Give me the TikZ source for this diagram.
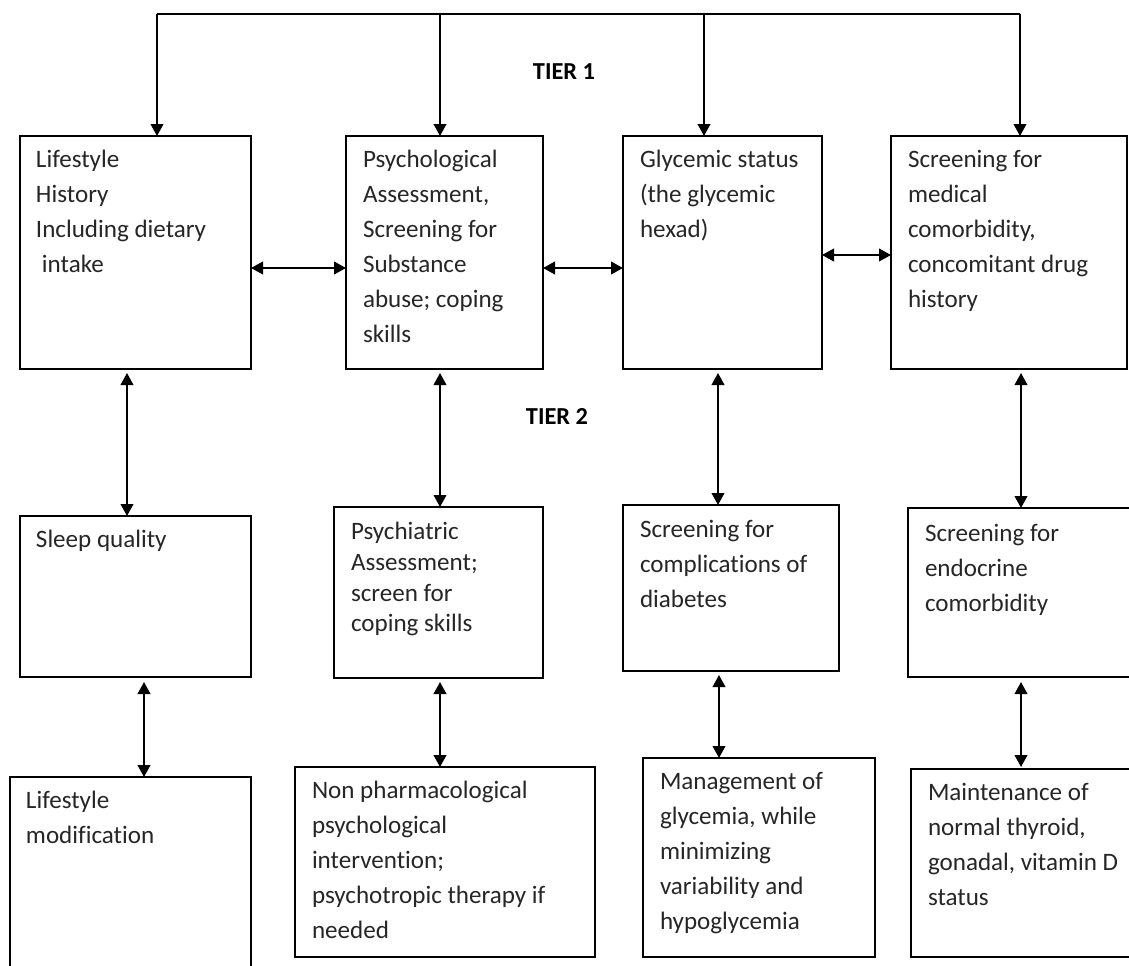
\documentclass[tikz,border=0pt]{standalone}
\usepackage{fontspec}
\usetikzlibrary{arrows.meta,calc}
\newfontfamily\carl[Ligatures=NoCommon]{Carlito}
\begin{document}
\begin{tikzpicture}[x=0.75pt,y=-0.75pt,
  box/.style 2 args={draw, line width=1.4pt, rectangle, anchor=north west, inner sep=0pt, outer sep=0pt, minimum width=#1*0.75pt, minimum height=#2*0.75pt},
  txt/.style={anchor=north west, inner sep=0pt, outer sep=0pt, align=left, text=black!85, font=\carl\fontsize{18.8}{26.25}\selectfont},
  tier/.style={font=\carl\bfseries\fontsize{18.3}{22}\selectfont, inner sep=0pt},
  ln/.style={line width=1.4pt},
  arr/.style={ln, -{Triangle[length=9pt,width=9.5pt]}},
  dbl/.style={ln, {Triangle[length=9pt,width=9.5pt]}-{Triangle[length=9pt,width=9.5pt]}}]
\useasboundingbox (0,0) rectangle (1129,965);
\clip (0,0) rectangle (1129,965);
\fill[white] (0,0) rectangle (1129,965);
% boxes
\node[box={231}{233}] (b1) at (20,136) {};
\node[box={197}{233}] (b2) at (346,136) {};
\node[box={199}{233}] (b3) at (623,136) {};
\node[box={236}{233}] (b4) at (891,136) {};
\node[box={231}{161}] (c1) at (20,516) {};
\node[box={209}{171}] (c2) at (334,507) {};
\node[box={216}{166}] (c3) at (623,505) {};
\node[box={226}{169}] (c4) at (908,508) {};
\node[box={241}{200}] (d1) at (10,777) {};
\node[box={300}{190}] (d2) at (295,767) {};
\node[box={232}{199}] (d3) at (643,758) {};
\node[box={220}{188}] (d4) at (911,769) {};
% texts
\node[txt] (b1t) at ($(b1.north west)+(16,6.5)$) {\strut Lifestyle\\History\\Including dietary\\\hspace*{4.5pt}intake};
\node[txt] (b2t) at ($(b2.north west)+(17,6.5)$) {\strut Psychological\\Assessment,\\Screening for\\Substance\\abuse; coping\\skills};
\node[txt] (b3t) at ($(b3.north west)+(17,6.5)$) {\strut Glycemic status\\(the glycemic\\hexad)};
\node[txt] (b4t) at ($(b4.north west)+(17,6.5)$) {\strut Screening for\\medical\\comorbidity,\\concomitant drug\\history};
\node[txt] (c1t) at ($(c1.north west)+(16,6.5)$) {\strut Sleep quality};
\node[txt, font=\carl\fontsize{18.8}{23}\selectfont] (c2t) at ($(c2.north west)+(17,11.5)$) {\strut Psychiatric\\Assessment;\\screen for\\coping skills};
\node[txt] (c3t) at ($(c3.north west)+(17,7.5)$) {\strut Screening for\\complications of\\diabetes};
\node[txt] (c4t) at ($(c4.north west)+(17,8.5)$) {\strut Screening for\\endocrine\\comorbidity};
\node[txt] (d1t) at ($(d1.north west)+(16,6.5)$) {\strut Lifestyle\\modification};
\node[txt] (d2t) at ($(d2.north west)+(17,6.5)$) {\strut Non pharmacological\\psychological\\intervention;\\psychotropic therapy if\\needed};
\node[txt] (d3t) at ($(d3.north west)+(17,6.5)$) {\strut Management of\\glycemia, while\\minimizing\\variability and\\hypoglycemia};
\node[txt] (d4t) at ($(d4.north west)+(17,6.5)$) {\strut Maintenance of\\normal thyroid,\\gonadal, vitamin D\\status};
% tier labels
\node[tier] (tier1) at (564,72) {TIER 1};
\node[tier] (tier2) at (557,416) {TIER 2};
% top distribution
\coordinate (t1) at (157,14);
\coordinate (t2) at (440,14);
\coordinate (t3) at (704,14);
\coordinate (t4) at (1020,14);
\draw[ln] (t1) -- (t4);
\draw[arr] (t1) -- (t1 |- b1.north);
\draw[arr] (t2) -- (t2 |- b2.north);
\draw[arr] (t3) -- (t3 |- b3.north);
\draw[arr] (t4) -- (t4 |- b4.north);
% horizontal links
\draw[dbl] ($(b1.east)+(0,15.5)$) -- ($(b2.west)+(0,15.5)$);
\draw[dbl] ($(b2.east)+(0,15.5)$) -- ($(b3.west)+(0,15.5)$);
\draw[dbl] ($(b3.east)+(0,2.5)$) -- ($(b4.west)+(0,2.5)$);
% vertical links
\draw[dbl] ($(b1.south)+(-8.5,4)$) -- ($(c1.north)+(-8.5,0)$);
\draw[dbl] ($(b2.south)+(-4.5,4)$) -- ($(c2.north)+(1.5,0)$);
\draw[dbl] ($(b3.south)+(-4.5,4)$) -- ($(c3.north)+(-13,0)$);
\draw[dbl] ($(b4.south)+(12,4)$) -- ($(c4.north)+(0,0)$);
\draw[dbl] ($(c1.south)+(8.5,5)$) -- ($(d1.north)+(13.5,0)$);
\draw[dbl] ($(c2.south)+(1.5,4)$) -- ($(d2.north)+(-5,0)$);
\draw[dbl] ($(c3.south)+(-12,4)$) -- ($(d3.north)+(-40,0)$);
\draw[dbl] ($(c4.south)+(0,5)$) -- ($(d4.north)+(0,-2)$);
\end{tikzpicture}
\end{document}
